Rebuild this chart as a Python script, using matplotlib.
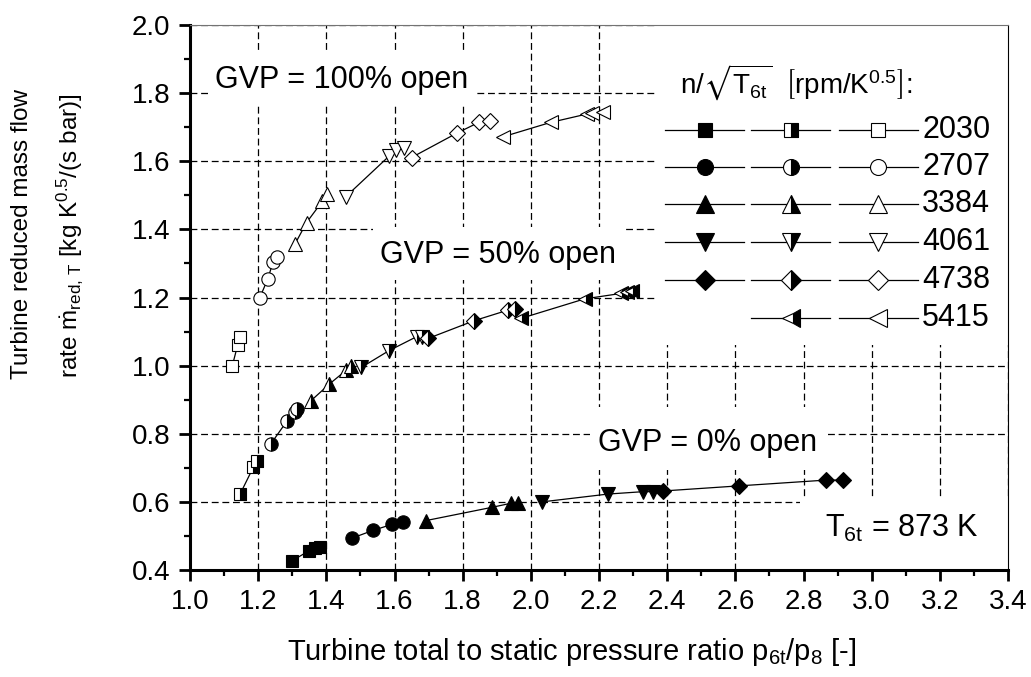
import numpy as np
import matplotlib
matplotlib.use("Agg")
import matplotlib.pyplot as plt
from matplotlib.patches import Rectangle
from matplotlib.ticker import MultipleLocator, FormatStrFormatter

plt.rcParams['font.family'] = ['Liberation Sans', 'DejaVu Sans']
plt.rcParams['mathtext.fontset'] = 'custom'
plt.rcParams['mathtext.rm'] = 'Liberation Sans'
plt.rcParams['mathtext.it'] = 'Liberation Sans:italic'
plt.rcParams['mathtext.fallback'] = 'stixsans'

speeds = [2030, 2707, 3384, 4061, 4738, 5415]
markers = ['s', 'o', '^', 'v', 'D', '<']

# GVP = 0% open (filled markers), no data for 5415
pr0 = [[1.298, 1.350, 1.367, 1.381],
       [1.474, 1.536, 1.593, 1.624],
       [1.692, 1.886, 1.942, 1.962],
       [2.033, 2.227, 2.330, 2.359],
       [2.388, 2.611, 2.867, 2.915],
       []]
mf0 = [[0.426, 0.457, 0.464, 0.467],
       [0.493, 0.516, 0.534, 0.542],
       [0.545, 0.584, 0.596, 0.597],
       [0.600, 0.623, 0.630, 0.630],
       [0.632, 0.647, 0.664, 0.664],
       []]

# GVP = 50% open (half filled markers)
pr50 = [[1.147, 1.186, 1.196],
        [1.237, 1.285, 1.308, 1.315],
        [1.355, 1.409, 1.459, 1.471],
        [1.503, 1.584, 1.665, 1.682],
        [1.699, 1.834, 1.933, 1.953],
        [1.972, 2.158, 2.265, 2.283, 2.297]]
mf50 = [[0.623, 0.702, 0.720],
        [0.770, 0.838, 0.865, 0.873],
        [0.897, 0.946, 0.987, 0.999],
        [0.995, 1.044, 1.085, 1.083],
        [1.080, 1.132, 1.163, 1.165],
        [1.139, 1.196, 1.212, 1.215, 1.218]]

# GVP = 100% open (open markers)
pr100 = [[1.124, 1.140, 1.147],
         [1.205, 1.228, 1.244, 1.254],
         [1.308, 1.342, 1.388, 1.403],
         [1.457, 1.583, 1.604, 1.628],
         [1.650, 1.782, 1.847, 1.880],
         [1.919, 2.058, 2.166, 2.180, 2.212]]
mf100 = [[0.999, 1.061, 1.085],
         [1.200, 1.254, 1.305, 1.320],
         [1.357, 1.420, 1.482, 1.503],
         [1.496, 1.614, 1.633, 1.638],
         [1.611, 1.682, 1.714, 1.717],
         [1.672, 1.714, 1.739, 1.743, 1.745]]

dataSizes = [8, 9.6, 9.6, 9.6, 8.3, 9.6]
legendSizes = [10.5, 11.5, 13, 13, 10, 13]


def markerStyle(kind):
    if kind == 'full':
        return dict(markerfacecolor='black', fillstyle='full')
    if kind == 'half':
        return dict(markerfacecolor='black', markerfacecoloralt='white', fillstyle='right')
    return dict(markerfacecolor='white', fillstyle='full')


fig = plt.figure(figsize=(10.31, 6.77), dpi=100)
ax = fig.add_axes([190 / 1031, 1 - 570 / 677, 818 / 1031, 545 / 677])

for xs, ys, kind in [(pr0, mf0, 'full'), (pr50, mf50, 'half'), (pr100, mf100, 'open')]:
    for i in range(len(speeds)):
        if len(xs[i]) == 0:
            continue
        ax.plot(xs[i], ys[i], color='black', lw=0.9, zorder=2)
        ax.plot(xs[i], ys[i], ls='none', marker=markers[i], ms=dataSizes[i],
                markeredgecolor='black', mew=0.8, zorder=3, **markerStyle(kind))

ax.set_xlim(1.0, 3.4)
ax.set_ylim(0.4, 2.0)
ax.xaxis.set_major_locator(MultipleLocator(0.2))
ax.xaxis.set_minor_locator(MultipleLocator(0.1))
ax.yaxis.set_major_locator(MultipleLocator(0.2))
ax.yaxis.set_minor_locator(MultipleLocator(0.1))
ax.xaxis.set_major_formatter(FormatStrFormatter('%.1f'))
ax.yaxis.set_major_formatter(FormatStrFormatter('%.1f'))
ax.tick_params(which='major', direction='out', length=8, width=2.0, labelsize=20, pad=6)
ax.tick_params(which='minor', direction='out', length=4, width=1.6)
ax.grid(True, which='major', color='black', lw=0.9, ls=(0, (5.5, 3)))

for side in ['left', 'bottom']:
    ax.spines[side].set_linewidth(2.2)
ax.spines['top'].set_linewidth(0.8)
ax.spines['top'].set_color('0.45')
ax.spines['right'].set_linewidth(0.8)

# white boxes hiding the grid behind the texts and the key
boxes = [(0.024, 0.857, 0.327, 0.092), (0.224, 0.532, 0.305, 0.097),
         (0.489, 0.183, 0.287, 0.116), (0.746, 0.0, 0.254, 0.134),
         (0.572, 0.413, 0.428, 0.587)]
for bx, by, bw, bh in boxes:
    ax.add_patch(Rectangle((bx, by), bw, bh, transform=ax.transAxes,
                           facecolor='white', edgecolor='none', zorder=1.7))

ax.text(1.073, 1.839, 'GVP = 100% open', fontsize=22, va='center', ha='left', zorder=4)
ax.text(1.557, 1.325, 'GVP = 50% open', fontsize=22, va='center', ha='left', zorder=4)
ax.text(2.196, 0.773, 'GVP = 0% open', fontsize=22, va='center', ha='left', zorder=4)
ax.text(2.862, 0.523, r'T$_{\mathrm{6t}}$ = 873 K', fontsize=22, va='center', ha='left', zorder=4)

# key
ax.text(0.599, 0.894, r'n/$\sqrt{\mathrm{T}_{\mathrm{6t}}}$  $\left[\mathrm{rpm/K^{0.5}}\right]$:',
        transform=ax.transAxes, fontsize=20, va='center', ha='left', zorder=4)
rowY = [0.807, 0.739, 0.672, 0.602, 0.532, 0.462]
colX = [(0.581, 0.677), (0.686, 0.783), (0.793, 0.890)]
kinds = ['full', 'half', 'open']
for i in range(len(speeds)):
    for j in range(3):
        if j == 0 and len(pr0[i]) == 0:
            continue
        x0, x1 = colX[j]
        ax.plot([x0, x1], [rowY[i], rowY[i]], transform=ax.transAxes, color='black', lw=0.9,
                clip_on=False, zorder=4)
        ax.plot([(x0 + x1) / 2], [rowY[i]], transform=ax.transAxes, ls='none',
                marker=markers[i], ms=legendSizes[i], markeredgecolor='black', mew=0.8,
                clip_on=False, zorder=5, **markerStyle(kinds[j]))
    ax.text(0.895, rowY[i], str(speeds[i]), transform=ax.transAxes, fontsize=22,
            va='center', ha='left', zorder=4)

fig.text(572 / 1031, 1 - 652 / 677, r'Turbine total to static pressure ratio p$_{\mathrm{6t}}$/p$_{\mathrm{8}}$ [-]',
         fontsize=21, ha='center', va='center')
fig.text(22 / 1031, 1 - 234 / 677, 'Turbine reduced mass flow', fontsize=17.5,
         rotation=90, ha='center', va='center')
fig.text(70 / 1031, 1 - 236 / 677, r'rate $\dot{\mathrm{m}}_{\mathrm{red,\,T}}$ [kg K$^{\mathrm{0.5}}$/(s bar)]',
         fontsize=17.5, rotation=90, ha='center', va='center')

fig.savefig('out.png', dpi=100)
